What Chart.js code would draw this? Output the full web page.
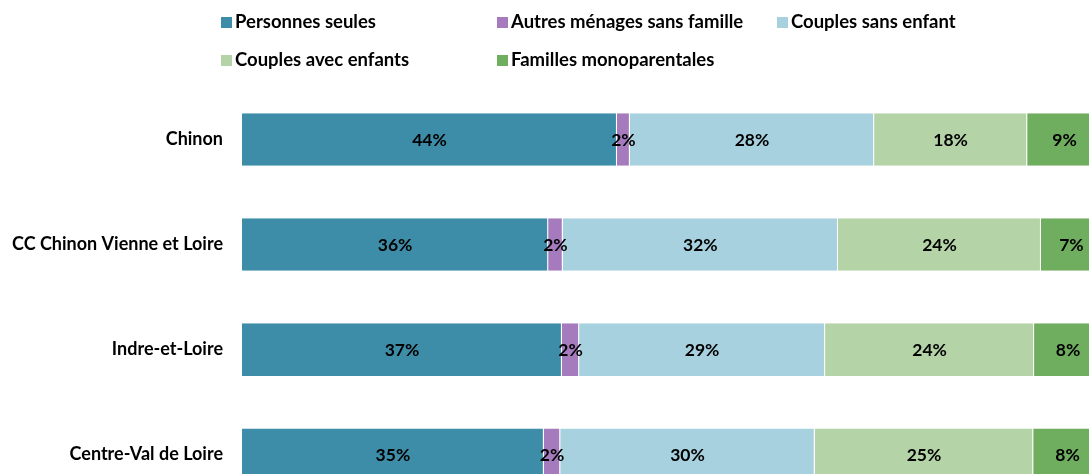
<!DOCTYPE html>
<html>
<head>
<meta charset="utf-8">
<script src="https://cdn.jsdelivr.net/npm/chart.js@4.4.1/dist/chart.umd.min.js"></script>
<style>
  html, body { margin: 0; padding: 0; background: #fff; overflow: hidden; }
  #wrap { position: relative; width: 1089px; height: 474px; overflow: hidden; }
  #chart { position: absolute; left: 0; top: 0; }
  .leg { position: absolute; font: bold 18.5px Lato, sans-serif; color: #000; white-space: nowrap; line-height: 20px; }
  .leg span { display: inline-block; width: 11px; height: 11px; margin-right: 3px; vertical-align: 0px; }
</style>
</head>
<body>
<div id="wrap">
  <canvas id="chart" width="1102" height="537"></canvas>
  <div id="legend"></div>
</div>
<script>
  // Values (share of households, %)
  const categories = ["Chinon", "CC Chinon Vienne et Loire", "Indre-et-Loire", "Centre-Val de Loire"];
  const seriesNames = ["Personnes seules", "Autres ménages sans famille", "Couples sans enfant", "Couples avec enfants", "Familles monoparentales"];
  const personnesSeules = [43.6, 35.6, 37.2, 35.1];
  const autresMenages = [1.5, 1.7, 2.0, 1.9];
  const couplesSansEnfant = [28.4, 32.0, 28.6, 29.6];
  const couplesAvecEnfants = [17.8, 23.6, 24.3, 25.4];
  const famillesMono = [8.7, 7.1, 7.9, 8.0];
  const colors = ["#3E8DA8", "#A57BBD", "#A8D1E0", "#B4D4A7", "#70AE5F"];

  const allValues = [personnesSeules, autresMenages, couplesSansEnfant, couplesAvecEnfants, famillesMono];

  // legend laid out in columns like the original
  const legendPos = [[221, 11], [497, 11], [777, 11], [221, 49], [497, 49]];
  const legend = document.getElementById('legend');
  seriesNames.forEach(function(name, i) {
    const d = document.createElement('div');
    d.className = 'leg';
    d.style.left = legendPos[i][0] + 'px';
    d.style.top = legendPos[i][1] + 'px';
    d.innerHTML = '<span style="background:' + colors[i] + '"></span>' + name;
    legend.appendChild(d);
  });

  // write the rounded % in the middle of each segment
  const barLabels = {
    id: 'barLabels',
    afterDatasetsDraw: function(chart) {
      const c = chart.ctx;
      c.save();
      c.font = 'bold 17.5px Lato, sans-serif';
      c.fillStyle = '#000';
      c.textAlign = 'center';
      c.textBaseline = 'middle';
      chart.data.datasets.forEach(function(ds, i) {
        chart.getDatasetMeta(i).data.forEach(function(bar, j) {
          c.fillText(Math.round(ds.data[j]) + '%', (bar.x + bar.base) / 2, bar.y + 1);
        });
      });
      c.restore();
    }
  };

  new Chart(document.getElementById('chart').getContext('2d'), {
    type: 'bar',
    data: {
      labels: categories,
      datasets: allValues.map(function(vals, i) {
        return {
          label: seriesNames[i],
          data: vals,
          backgroundColor: colors[i],
          borderColor: 'rgba(255,255,255,0.7)',
          borderWidth: { left: 0, right: 1, top: 0, bottom: 0 },
          borderSkipped: false,
          categoryPercentage: 1,
          barPercentage: 0.5
        };
      })
    },
    plugins: [barLabels],
    options: {
      indexAxis: 'y',
      responsive: false,
      animation: false,
      layout: { padding: { top: 87, right: 0, bottom: 0, left: 0 } },
      plugins: { legend: { display: false }, tooltip: { enabled: false } },
      scales: {
        x: { stacked: true, min: 0, max: 100, display: false },
        y: {
          stacked: true,
          grid: { display: false, drawTicks: false },
          border: { display: false },
          ticks: { padding: 19, color: '#000', font: { family: 'Lato, sans-serif', size: 18, weight: 'bold' } },
          afterFit: function(scale) { scale.width = 242; }
        }
      }
    }
  });
</script>
</body>
</html>
